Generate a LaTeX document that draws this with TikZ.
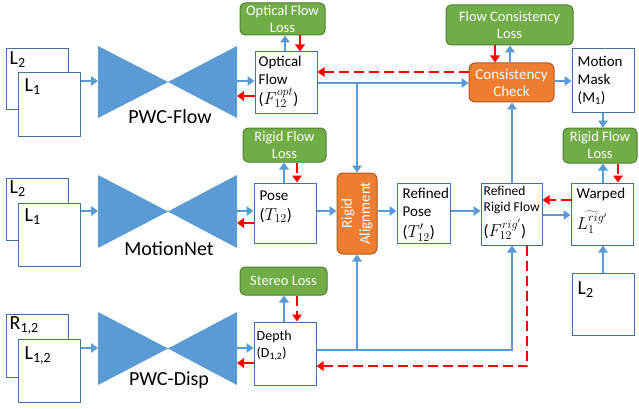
\documentclass[tikz,border=0pt]{standalone}
\usepackage{fontspec}
\setmainfont{Carlito}
\usetikzlibrary{arrows.meta,calc}
\definecolor{bblue}{HTML}{5B9BD5}
\definecolor{bline}{HTML}{41719C}
\definecolor{lgreen}{HTML}{70AD47}
\definecolor{dgreen}{HTML}{507E32}
\definecolor{lorange}{HTML}{ED7D31}
\definecolor{dorange}{HTML}{AE5A21}
\tikzset{
  wbox/.style={draw=bline, line width=1pt, fill=white, inner sep=0pt},
  lossbox/.style={fill=lgreen, draw=dgreen, line width=1pt, rounded corners=5pt, text=white, align=center, inner sep=0pt, font=\fontsize{14.5}{17}\selectfont},
  orbox/.style={fill=lorange, draw=dorange, line width=1pt, rounded corners=6pt, text=white, align=center, inner sep=0pt, font=\fontsize{15}{17}\selectfont},
  btxt/.style={anchor=north west, align=left, inner sep=0pt, font=\fontsize{15}{18}\selectfont},
  ltxt/.style={anchor=north west, inner sep=0pt, font=\fontsize{20}{22}\selectfont},
  nettxt/.style={anchor=base, inner sep=0pt, font=\fontsize{20}{22}\selectfont},
  ba/.style={draw=bblue, line width=2.8pt, -{Triangle[length=7pt,width=9.5pt]}},
  ra/.style={draw=red, line width=2.8pt, -{Triangle[length=7pt,width=9.5pt]}},
  rd/.style={ra, dash pattern=on 10pt off 5pt},
}
\newcommand\mybox[7]{\node[#1, minimum width={#5-#3}, minimum height={#6-#4}] (#2) at ({(#3+#5)/2},{(#4+#6)/2}) {#7};}
\newcommand\mth{\fontsize{16.5}{20}\selectfont}
\begin{document}
\begin{tikzpicture}[x=1pt,y=-1pt]
\useasboundingbox (0,0) rectangle (639,409);
% bowties
\fill[bblue] (98,46) -- (98,118) -- (168,82) -- cycle;
\fill[bblue] (237,46) -- (237,118) -- (168,82) -- cycle;
\fill[bblue] (98,175) -- (98,248) -- (168,211.5) -- cycle;
\fill[bblue] (237,175) -- (237,248) -- (168,211.5) -- cycle;
\fill[bblue] (98,312) -- (98,385) -- (168,348.5) -- cycle;
\fill[bblue] (237,312) -- (237,385) -- (168,348.5) -- cycle;
\node[nettxt] (n1) at (170,123) {PWC-Flow};
\node[nettxt] (n2) at (169,255) {MotionNet};
\node[nettxt] (n3) at (169,385) {PWC-Disp};
\coordinate (b1l) at (98,81);
\coordinate (b1r) at (237,81);
\coordinate (b2l) at (98,211);
\coordinate (b2r) at (237,211);
\coordinate (b3l) at (98,348);
\coordinate (b3r) at (237,348);
% input boxes
\mybox{wbox}{L2a}{6}{49}{68}{110}{}
\mybox{wbox}{L1a}{18}{73}{80}{136}{}
\mybox{wbox}{L2b}{6}{178}{68}{240}{}
\mybox{wbox}{L1b}{18}{203}{80}{266}{}
\mybox{wbox}{R12}{6}{314}{68}{377}{}
\mybox{wbox}{L12}{18}{339}{80}{402}{}
\node[ltxt] (tL2a) at ($(L2a.north west)+(4,3)$) {L\textsubscript{2}};
\node[ltxt] (tL1a) at ($(L1a.north west)+(7,6)$) {L\textsubscript{1}};
\node[ltxt] (tL2b) at ($(L2b.north west)+(4,3)$) {L\textsubscript{2}};
\node[ltxt] (tL1b) at ($(L1b.north west)+(7,6)$) {L\textsubscript{1}};
\node[ltxt] (tR12) at ($(R12.north west)+(4,3)$) {R\textsubscript{1,2}};
\node[ltxt] (tL12) at ($(L12.north west)+(7,8)$) {L\textsubscript{1,2}};
% content boxes
\mybox{wbox}{OF}{255}{52}{317}{114}{}
\mybox{wbox}{MM}{572}{49}{634}{113}{}
\mybox{wbox}{Pose}{254}{183}{316}{243}{}
\mybox{wbox}{RP}{397}{183}{450}{243}{}
\mybox{wbox}{RRF}{481}{183}{542}{245}{}
\mybox{wbox}{WP}{571}{183}{633}{245}{}
\mybox{wbox}{DP}{254}{322}{316}{385}{}
\mybox{wbox}{L2c}{572}{273}{634}{335}{}
\node[btxt] (tOF) at ($(OF.north west)+(4,4)$) {Optical\\Flow\\[2pt]{\mth($F_{12}^{opt}$)}};
\node[btxt] (tMM) at ($(MM.north west)+(6,7)$) {Motion\\Mask\\(M\textsubscript{1})};
\node[btxt] (tPose) at ($(Pose.north west)+(6,8)$) {Pose\\[2pt]{\mth($T_{12}$)}};
\node[btxt] (tRP) at ($(RP.north west)+(6,5)$) {Refined\\Pose\\[3pt]{\mth($T'_{12}$)}};
\node[btxt, font=\fontsize{13.5}{16}\selectfont] (tRRF) at ($(RRF.north west)+(3,3)$) {Refined\\Rigid Flow\\[5pt]{\mth($F_{12}^{rig'}$)}};
\node[btxt] (tWP) at ($(WP.north west)+(6,5)$) {Warped\\[9pt]{\mth$\widetilde{L_1^{rig'}}$}};
\node[btxt, font=\fontsize{14}{17}\selectfont] (tDP) at ($(DP.north west)+(3,9)$) {Depth\\(D\textsubscript{1,2})};
\node[ltxt] (tL2c) at ($(L2c.north west)+(6,9)$) {L\textsubscript{2}};
% loss boxes
\mybox{lossbox}{OFL}{240}{3}{325}{35}{Optical Flow\\Loss}
\mybox{lossbox}{FCL}{446}{5}{573}{45}{Flow Consistency\\Loss}
\mybox{lossbox}{RFL1}{243}{128}{326}{162}{Rigid Flow\\Loss}
\mybox{lossbox}{RFL2}{563}{128}{637}{163}{Rigid Flow\\Loss}
\mybox{lossbox}{SL}{240}{267}{327}{295}{Stereo Loss}
% orange boxes
\mybox{orbox}{CC}{469}{63}{554}{102}{Consistency\\Check}
\mybox{orbox}{RA}{337}{173}{377}{254}{}
\node[rotate=90, align=center, text=white, inner sep=0pt, font=\fontsize{15}{18}\selectfont] (tRA) at (RA.center) {Rigid\\Alignment};
% row 1 connectors
\draw[ba] (L1a.east |- b1l) -- (b1l);
\draw[ba] (b1r) -- (OF.west |- b1r);
\draw[ra] (OF.west |- 0,96) -- (b1r |- 0,96);
\draw[ba] (OF.north -| 285,0) -- (OFL.south -| 285,0);
\draw[ra] (OFL.south -| 300,0) -- (OF.north -| 300,0);
\draw[ba] (OF.east |- 0,83) -- (CC.west |- 0,83);
\draw[rd] (CC.west |- 0,72) -- (OF.east |- 0,72);
\draw[ba] (RA.north |- 0,83) -- (RA.north);
\draw[ba] (CC.north -| 510,0) -- (FCL.south -| 510,0);
\draw[ra] (FCL.south -| 495,0) -- (CC.north -| 495,0);
\draw[ba] (CC.east |- 0,81) -- (MM.west |- 0,81);
\draw[ba] (MM.south) -- (RFL2.north -| MM.south);
% row 2 connectors
\draw[ba] (L1b.east |- b2l) -- (b2l);
\draw[ba] (b2r) -- (Pose.west |- b2r);
\draw[ra] (Pose.west |- 0,223) -- (b2r |- 0,223);
\draw[ba] (Pose.north -| 284,0) -- (RFL1.south -| 284,0);
\draw[rd] (RFL1.south -| 297,0) -- (Pose.north -| 297,0);
\draw[ba] (Pose.east |- 0,211) -- (RA.west |- 0,211);
\draw[ba] (RA.east |- 0,211) -- (RP.west |- 0,211);
\draw[ba] (RP.east |- 0,211) -- (RRF.west |- 0,211);
\draw[ba] (RRF.north -| 512,0) -- (CC.south -| 512,0);
\draw[ba] (RRF.east |- 0,215) -- (WP.west |- 0,215);
\draw[rd] (WP.west |- 0,200) -- (RRF.east |- 0,200);
\draw[ba] (WP.north -| 603,0) -- (RFL2.south -| 603,0);
\draw[rd] (RFL2.south -| 618,0) -- (WP.north -| 618,0);
\draw[ba] (L2c.north) -- (WP.south -| L2c.north);
% row 3 connectors
\draw[ba] (L12.east |- b3l) -- (b3l);
\draw[ba] (b3r) -- (DP.west |- b3r);
\draw[ra] (DP.west |- 0,363) -- (b3r |- 0,363);
\draw[ba] (DP.north -| 284,0) -- (SL.south -| 284,0);
\draw[rd] (SL.south -| 297,0) -- (DP.north -| 297,0);
\draw[ba] (DP.east |- 0,350) -| (RRF.south -| 512,0);
\draw[ba] (RA.south |- 0,350) -- (RA.south);
\draw[rd] (RRF.south -| 527,0) |- (DP.east |- 0,366);
\end{tikzpicture}
\end{document}
